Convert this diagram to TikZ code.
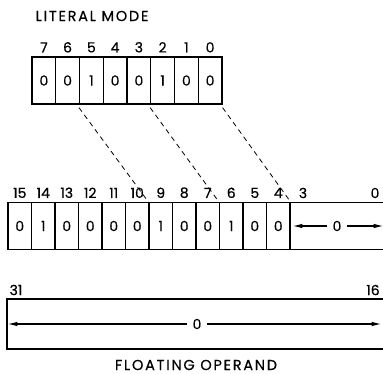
\documentclass[tikz,border=0pt]{standalone}
\usepackage{fontspec}
\setmainfont[FakeBold=0.5]{Poppins}
\newfontfamily\ttlfont[FakeBold=0.4, LetterSpace=12]{Poppins}
\usetikzlibrary{arrows.meta}

\tikzset{
  bit/.style={draw, line width=1.2pt, rectangle, inner sep=0pt,
    minimum height=47pt, font=\fontsize{14}{16}\selectfont,
    label distance=-1.5pt},
  every label/.style={font=\fontsize{14}{16}\selectfont},
  lbl/.style={font=\fontsize{14}{16}\selectfont, inner sep=0pt},
  ttl/.style={font=\ttlfont\fontsize{14.5}{16}\selectfont, inner sep=0pt},
}

\begin{document}
\begin{tikzpicture}[x=1pt, y=-1pt, >={Latex[length=10pt,width=4.5pt]}, line width=1.2pt]
  \useasboundingbox (0,0) rectangle (383,374);

  % literal mode
  \node[ttl] (lit) at (92,16) {LITERAL MODE};
  \node[bit, minimum width=23.75pt, label=above:7] (l7) at (43.9,80.5)  {0};
  \node[bit, minimum width=23.75pt, label=above:6] (l6) at (67.6,80.5)  {0};
  \node[bit, minimum width=23.75pt, label=above:5] (l5) at (91.4,80.5)  {1};
  \node[bit, minimum width=23.75pt, label=above:4] (l4) at (115.1,80.5) {0};
  \node[bit, minimum width=23.75pt, label=above:3] (l3) at (138.9,80.5) {0};
  \node[bit, minimum width=23.75pt, label=above:2] (l2) at (162.6,80.5) {1};
  \node[bit, minimum width=23.75pt, label=above:1] (l1) at (186.4,80.5) {0};
  \node[bit, minimum width=23.75pt, label=above:0] (l0) at (210.1,80.5) {0};

  % high word of the operand
  \node[bit, minimum width=23.5pt, label=above:15] (m15) at (19.75,226)  {0};
  \node[bit, minimum width=23.5pt, label=above:14] (m14) at (43.25,226)  {1};
  \node[bit, minimum width=23.5pt, label=above:13] (m13) at (66.75,226)  {0};
  \node[bit, minimum width=23.5pt, label=above:12] (m12) at (90.25,226)  {0};
  \node[bit, minimum width=23.5pt, label=above:11] (m11) at (113.75,226) {0};
  \node[bit, minimum width=23.5pt, label=above:10] (m10) at (137.25,226) {0};
  \node[bit, minimum width=23.5pt, label=above:9]  (m9)  at (160.75,226) {1};
  \node[bit, minimum width=23.5pt, label=above:8]  (m8)  at (184.25,226) {0};
  \node[bit, minimum width=23.5pt, label=above:7]  (m7)  at (207.75,226) {0};
  \node[bit, minimum width=23.5pt, label=above:6]  (m6)  at (231.25,226) {1};
  \node[bit, minimum width=23.5pt, label=above:5]  (m5)  at (254.75,226) {0};
  \node[bit, minimum width=23.5pt, label=above:4]  (m4)  at (278.25,226) {0};
  \node[bit, minimum width=98pt] (f30) at (339,226) {};
  \node[lbl] (n3) at (303,193) {3};
  \node[lbl] (n0) at (375,193) {0};
  \node[lbl, inner xsep=5pt] (z1) at (337,226) {0};
  \draw[->, shorten >=3pt] (z1.west) -- (z1.west -| f30.west);
  \draw[->, shorten >=5pt] (z1.east) -- (z1.east -| f30.east);

  % low word of the operand
  \node[bit, minimum width=381pt, minimum height=50pt] (lo) at (197.5,324) {};
  \node[lbl] (n31) at (16,290)  {31};
  \node[lbl] (n16) at (373,290) {16};
  \node[lbl, inner xsep=5pt] (z2) at (197,324) {0};
  \draw[->, shorten >=1pt] (z2.west) -- (z2.west -| lo.west);
  \draw[->, shorten >=7pt] (z2.east) -- (z2.east -| lo.east);
  \node[ttl] (flo) at (196,365) {FLOATING OPERAND};

  % literal into operand
  \draw[dashed, line width=0.8pt, dash pattern=on 5pt off 4pt]
    ([yshift=-3pt]l5.south west) -- (m9.north west);
  \draw[dashed, line width=0.8pt, dash pattern=on 5pt off 4pt]
    ([yshift=-3pt]l2.south west) -- (m6.north west);
  \draw[dashed, line width=0.8pt, dash pattern=on 5pt off 4pt]
    ([yshift=-3pt]l0.south east) -- (m4.north east);
\end{tikzpicture}
\end{document}
